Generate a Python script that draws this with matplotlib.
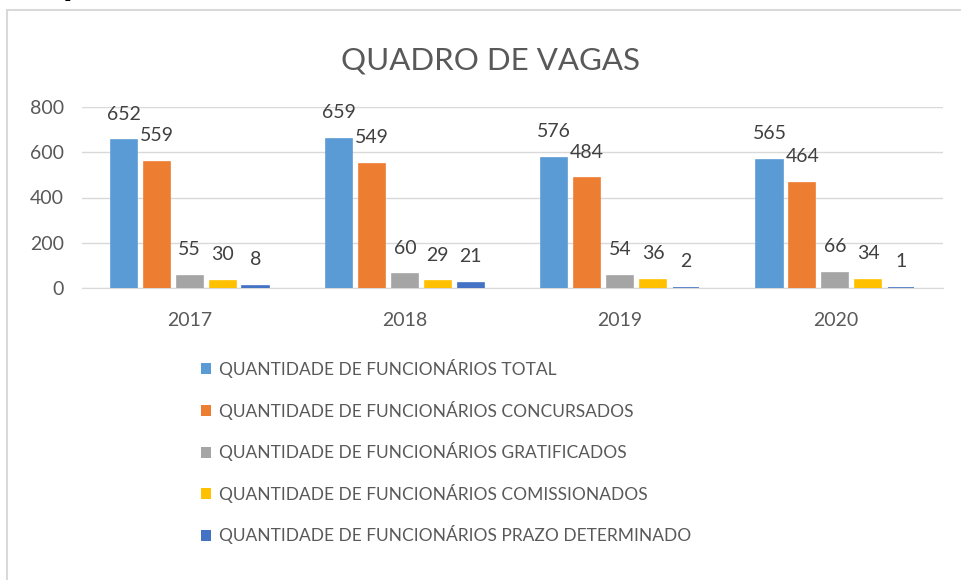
import numpy as np
import matplotlib.pyplot as plt
from matplotlib.patches import Patch, Rectangle

years = ["2017", "2018", "2019", "2020"]
series_names = [
    "QUANTIDADE DE FUNCIONÁRIOS TOTAL",
    "QUANTIDADE DE FUNCIONÁRIOS CONCURSADOS",
    "QUANTIDADE DE FUNCIONÁRIOS GRATIFICADOS",
    "QUANTIDADE DE FUNCIONÁRIOS COMISSIONADOS",
    "QUANTIDADE DE FUNCIONÁRIOS PRAZO DETERMINADO",
]
total = [652, 659, 576, 565]
concursados = [559, 549, 484, 464]
gratificados = [55, 60, 54, 66]
comissionados = [30, 29, 36, 34]
prazo = [8, 21, 2, 1]
yticks = [0, 200, 400, 600, 800]

colors = ["#5B9BD5", "#ED7D31", "#A5A5A5", "#FFC000", "#4472C4"]
txt = "#595959"

plt.rcParams["font.family"] = ["Lato", "DejaVu Sans"]

fig = plt.figure(figsize=(9.61, 5.8), dpi=100)
# chart frame (light border, cut off on the right and bottom)
fig.patches.append(Rectangle((7 / 961, -0.01), 1.0, 1 - 10 / 580 + 0.01,
                             transform=fig.transFigure, fill=False,
                             edgecolor="#D9D9D9", linewidth=1.5))
# tail of a letter from the text above the screenshot
fig.text(63 / 961, 1 + 5 / 580, "p", fontsize=20, fontweight="bold",
         family="DejaVu Sans", color="black", va="baseline", ha="left")

ax = fig.add_axes([82 / 961, 1 - 288 / 580, (943 - 82) / 961, (288 - 107) / 580])

x = np.arange(len(years))
w = 0.121
step = 0.153
all_series = [total, concursados, gratificados, comissionados, prazo]
for k, vals in enumerate(all_series):
    pos = x + (k - 2) * step
    ax.bar(pos, vals, width=w, color=colors[k], edgecolor=colors[k],
           linewidth=1.2, zorder=3)
    for px, v in zip(pos, vals):
        ax.annotate(str(v), (px, v), xytext=(0, 19), textcoords="offset points",
                    ha="center", va="center", fontsize=14, color="#404040")

ax.set_xlim(-0.5, 3.5)
ax.set_ylim(0, 800)
ax.set_yticks(yticks)
ax.set_xticks(x)
ax.set_xticklabels(years)
ax.grid(axis="y", color="#D9D9D9", linewidth=1, zorder=0)
for s in ["top", "right", "left"]:
    ax.spines[s].set_visible(False)
ax.spines["bottom"].set_color("#D9D9D9")
ax.tick_params(axis="both", length=0, labelsize=14, labelcolor=txt)
ax.tick_params(axis="x", pad=17)
ax.tick_params(axis="y", pad=13)

fig.text(490 / 961, 1 - 61 / 580, "QUADRO DE VAGAS", ha="center", va="center",
         fontsize=22.5, color=txt)

handles = [Patch(facecolor=c) for c in colors]
fig.legend(handles, series_names, loc="upper left",
           bbox_to_anchor=(201 / 961, 1 - 359 / 580), frameon=False,
           fontsize=12.5, labelcolor=txt, handlelength=0.6, handleheight=0.6,
           handletextpad=0.45, labelspacing=1.3, borderaxespad=0, borderpad=0)

fig.savefig("out.png", dpi=100)
